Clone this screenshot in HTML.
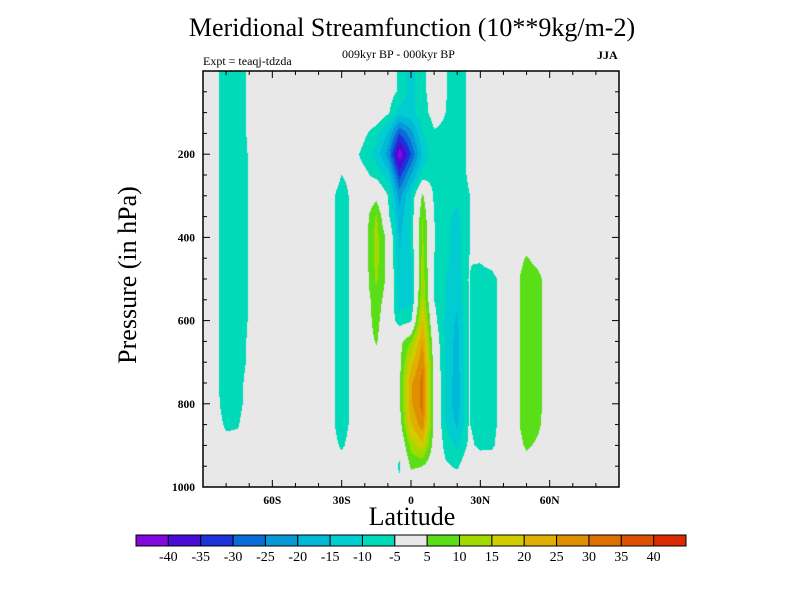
<!DOCTYPE html>
<html><head><meta charset="utf-8"><style>
body{margin:0;background:#fff;width:800px;height:600px;overflow:hidden;position:relative;font-family:"Liberation Serif",serif}
.t{position:absolute;white-space:nowrap;color:#000}
</style></head><body>
<div class="t" style="left:0;width:824px;text-align:center;top:13px;font-size:26px">Meridional Streamfunction (10**9kg/m-2)</div>
<div class="t" style="left:342px;top:47px;font-size:12px">009kyr BP - 000kyr BP</div>
<div class="t" style="left:203px;top:54px;font-size:12px">Expt = teaqj-tdzda</div>
<div class="t" style="left:597px;top:48px;font-size:12px;font-weight:bold">JJA</div>
<div class="t" style="left:128px;top:275px;font-size:26px;transform:translate(-50%,-50%) rotate(-90deg)">Pressure (in hPa)</div>
<div class="t" style="left:0;width:824px;text-align:center;top:502px;font-size:26px">Latitude</div>
<canvas id="cv" width="800" height="600" style="position:absolute;left:0;top:0"></canvas>
<svg id="sv" width="800" height="600" style="position:absolute;left:0;top:0"></svg>
<script>
const lats=[-90,-85,-80,-75,-70,-65,-60,-55,-50,-45,-40,-35,-30,-25,-20,-15,-10,-5,0,5,10,15,20,25,30,35,40,45,50,55,60,65,70,75,80,85,90];
const levels=[0,50,100,150,200,250,300,350,400,450,500,550,600,650,700,750,800,850,900,950,1000];
const colorLevels=[-40,-35,-30,-25,-20,-15,-10,-5,5,10,15,20,25,30,35,40];
const colorbarLabels=["-40","-35","-30","-25","-20","-15","-10","-5","5","10","15","20","25","30","35","40"];
const colors=["#8208dc","#4a0ad8","#1e32da","#0a6cd8","#0898d8","#00b8d8","#00ccd2","#00dab8","#e8e8e8","#5ade18","#a2da00","#d0cc00","#e0b000","#de9000","#dc7000","#dc5000","#dc2a00"];
const xTickVals=[-60,-30,0,30,60];
const xTickLabels=["60S","30S","0","30N","60N"];
const yTickVals=[200,400,600,800,1000];
const psi=[
[0,-3,-8,-8,-4,-2,0,0,0,0,0,0,0,0,0,0,-2,-6,-12,-6,-3,-4.5,-9,-4,0,0,0,0,0,0,0,0,0,0,0,0,0],
[0,-3,-8,-8,-4,-3,0,0,0,0,0,0,0,0,0,0,-2,-6,-12,-6,-3,-4.5,-9,-4,0,0,0,0,0,0,0,0,0,0,0,0,0],
[0,-3,-8,-8,-4,-3,0,0,0,0,0,0,0,0,0,0,-4,-12,-12,-7,-3,-5,-9,-4,0,0,0,0,0,0,0,0,0,0,0,0,0],
[0,-3,-8,-8,-4,-3,0,0,0,0,0,0,0,0,-4,-8,-15,-30,-22,-10,-5.5,-6,-9,-4,0,0,0,0,0,0,0,0,0,0,0,0,0],
[0,-3,-8,-8,-4.5,-3,0,0,0,0,0,0,0,-3,-7,-12,-22,-44,-30,-14,-6,-7,-9,-4,0,0,0,0,0,0,0,0,0,0,0,0,0],
[0,-3,-8,-8,-4.5,-3,0,0,0,0,0,0,-5,-3,-3.5,-7,-12,-32,-20,-8,-7,-8,-9,-4,0,0,0,0,0,0,0,0,0,0,0,0,0],
[0,-3,-8,-8,-4.5,-3,0,0,0,0,0,-3,-8,-3,0,3,-5,-22,-10,6,-6,-8,-9,-5.5,0,0,0,0,0,0,0,0,0,0,0,0,0],
[0,-3,-8,-8,-4.5,-3,0,0,0,0,0,-3,-8,-3,2,11,-3,-18,-9,10,-5,-9,-11,-5.5,0,0,0,0,0,0,0,0,0,0,0,0,0],
[0,-3,-8,-8,-4.5,-3,0,0,0,0,0,-3,-8,-3,2,12,3,-16,-9,11,-4.5,-9,-12,-5.5,0,0,0,0,0,0,0,0,0,0,0,0,0],
[0,-3,-8,-8,-4.5,-3,0,0,0,0,0,-3,-8,-3,2,12,3,-14,-10,12,-5,-9,-12,-5,-4.5,-3,0,2,5.5,3,0,0,0,0,0,0,0],
[0,-3,-8,-8,-4.5,-3,0,0,0,0,0,-3,-8,-3,2,11,3,-13,-12,13,-5,-10,-13,-4.8,-6.5,-6.5,-3,3,8,6.5,2,0,0,0,0,0,0],
[0,-3,-8,-8,-4.5,-3,0,0,0,0,0,-3,-8,-3,2,8,2,-12,-12,15,-5,-10,-14,-4.8,-6.5,-6.5,-3,3,8,6.5,2,0,0,0,0,0,0],
[0,-3,-8,-8,-4.5,-3,0,0,0,0,0,-3,-8,-3,2,7,0,-8,-6,20,-3,-11,-16,-4.8,-6.5,-6.5,-3,3,8,6.5,2,0,0,0,0,0,0],
[0,-3,-8,-8,-4,-3,0,0,0,0,0,-3,-8,-3,2,5.5,0,3,10,25,0,-11,-17,-4.8,-6.5,-6.5,-3,3,8,6.5,2,0,0,0,0,0,0],
[0,-3,-8,-7.5,-4,-2,0,0,0,0,0,-3,-8,-3,0,3,0,3,18,29,2,-11,-17,-4.8,-6.5,-6.5,-3,3,8,6.5,2,0,0,0,0,0,0],
[0,-3,-8,-7,-3,-2,0,0,0,0,0,-3,-8,-3,0,0,0,4,24,32,3,-11,-18,-4.8,-6.5,-6.5,-3,3,8,6.5,2,0,0,0,0,0,0],
[0,-3,-7.5,-6.5,-3,0,0,0,0,0,0,-3,-8,-3,0,0,0,4,24,32,3,-11,-18,-4.8,-6.5,-6.5,-3,3,8,6.5,2,0,0,0,0,0,0],
[0,-2,-6,-5.5,-2,0,0,0,0,0,0,-3,-8,-3,0,0,0,2,20,28,3,-10,-16,-4.8,-6.5,-6.5,-3,3,8,6,2,0,0,0,0,0,0],
[0,0,-3,-3,0,0,0,0,0,0,0,-2,-6,-2,0,0,0,-2,12,18,2,-7,-11,-4,-6,-6,-2,2,6,4,0,0,0,0,0,0,0],
[0,0,0,0,0,0,0,0,0,0,0,0,-2,0,0,0,0,-6,6,5,0,-4,-6,0,-2,-1,0,0,2,0,0,0,0,0,0,0,0],
[0,0,0,0,0,0,0,0,0,0,0,0,0,0,0,0,0,-3,0,0,0,0,0,0,0,0,0,0,0,0,0,0,0,0,0,0,0]
];
const L=203,R=619,T=71,B=487;
const xs=v=>L+(v+90)/180*(R-L);
const ys=p=>T+p/1000*(B-T);
function colorOf(v){let i=0;while(i<colorLevels.length&&v>=colorLevels[i])i++;return colors[i];}
function field(lat,p){
  let fi=(lat-lats[0])/(lats[1]-lats[0]);fi=Math.max(0,Math.min(lats.length-1.0001,fi));
  let fj=(p-levels[0])/(levels[1]-levels[0]);fj=Math.max(0,Math.min(levels.length-1.0001,fj));
  const i=Math.floor(fi),j=Math.floor(fj),a=fi-i,b=fj-j;
  return (psi[j][i]*(1-a)+psi[j][i+1]*a)*(1-b)+(psi[j+1][i]*(1-a)+psi[j+1][i+1]*a)*b;
}
const ctx=document.getElementById('cv').getContext('2d');
for(let py=T;py<B;py++){for(let px=L;px<R;px++){
  const lat=(px+0.5-L)/(R-L)*180-90,p=(py+0.5-T)/(B-T)*1000;
  ctx.fillStyle=colorOf(field(lat,p));ctx.fillRect(px,py,1,1);
}}
const NS='http://www.w3.org/2000/svg',sv=document.getElementById('sv');
function mk(tag,at,txt){const e=document.createElementNS(NS,tag);for(const k in at)e.setAttribute(k,at[k]);if(txt!==undefined)e.textContent=txt;sv.appendChild(e);return e;}
const frame=mk('rect',{x:L,y:T,width:R-L,height:B-T,fill:'none',stroke:'#000','stroke-width':1.5});


for(let v=-80;v<=80;v+=10){const x=xs(v),len=(v%30===0)?7:4;
  mk('line',{x1:x,y1:B,x2:x,y2:B-len,stroke:'#000'});mk('line',{x1:x,y1:T,x2:x,y2:T+len,stroke:'#000'});}
for(let p=50;p<1000;p+=50){const y=ys(p),len=(p%200===0)?7:4;
  mk('line',{x1:L,y1:y,x2:L+len,y2:y,stroke:'#000'});mk('line',{x1:R,y1:y,x2:R-len,y2:y,stroke:'#000'});}
xTickVals.forEach((v,i)=>{const t=mk('text',{x:xs(v),y:B+17,'text-anchor':'middle','font-size':11.5,'font-weight':'bold','font-family':'Liberation Serif, serif'},xTickLabels[i]);
  
  });
yTickVals.forEach(v=>{const t=mk('text',{x:L-8,y:ys(v)+4,'text-anchor':'end','font-size':11.5,'font-weight':'bold','font-family':'Liberation Serif, serif'},String(v));
  
  });
const cbL=136,cbR=686,cbT=535,cbH=11,bw=(cbR-cbL)/colors.length;
colors.forEach((c,i)=>{const r=mk('rect',{x:cbL+i*bw,y:cbT,width:bw,height:cbH,fill:c,stroke:'#000','stroke-width':1});
  
  });
colorbarLabels.forEach((s,i)=>{const t=mk('text',{x:cbL+(i+1)*bw,y:cbT+cbH+15,'text-anchor':'middle','font-size':14,'font-family':'Liberation Serif, serif'},s);
  
  });
</script>
</body></html>
